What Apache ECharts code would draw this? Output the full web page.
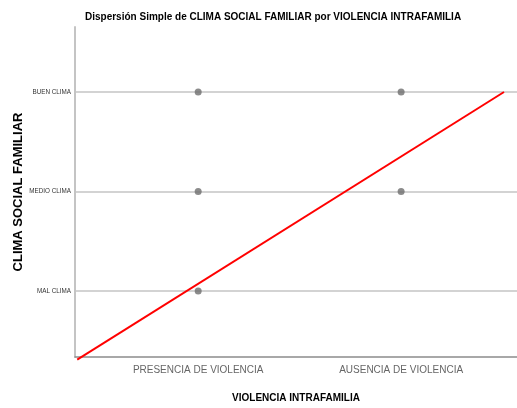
<!DOCTYPE html>
<html>
<head>
<meta charset="utf-8">
<script src="https://cdn.jsdelivr.net/npm/echarts@6/dist/echarts.min.js"></script>
<style>html,body{margin:0;padding:0;background:#fff}#c{width:517px;height:408px}</style>
</head>
<body>
<div id="c"></div>
<script>
const xCategories = ['PRESENCIA DE VIOLENCIA', 'AUSENCIA DE VIOLENCIA'];
const yCategories = ['MAL CLIMA', 'MEDIO CLIMA', 'BUEN CLIMA'];
// points: [x index (1-based), y level (1-based)]
const points = [[1, 3], [1, 2], [1, 1], [2, 3], [2, 2]];
// fit line endpoints
const fitLine = [[0.404, 0.31], [2.507, 3.0]];

const FONT = "'Liberation Sans',Arial,sans-serif";
const chart = echarts.init(document.getElementById('c'), null, {renderer: 'canvas'});
chart.setOption({
  animation: false,
  title: {
    text: 'Dispersión Simple de CLIMA SOCIAL FAMILIAR por VIOLENCIA INTRAFAMILIA',
    left: 80, top: 7,
    textStyle: {fontFamily: FONT, fontWeight: 'bold', fontSize: 10, color: '#000'}
  },
  grid: {left: 75, right: 0, top: 27, bottom: 51, containLabel: false, outerBoundsMode: 'none'},
  xAxis: {
    type: 'value', min: 0.393, max: 2.571,
    name: 'VIOLENCIA INTRAFAMILIA', nameLocation: 'middle', nameGap: 36, nameMoveOverlap: false,
    nameTextStyle: {fontFamily: FONT, fontWeight: 'bold', fontSize: 10, color: '#000'},
    axisLine: {show: true, lineStyle: {color: '#8c8c8c', width: 1.5}},
    axisTick: {show: false, customValues: [1, 2]},
    splitLine: {show: false},
    axisLabel: {
      customValues: [1, 2], margin: 8,
      formatter: v => xCategories[Math.round(v) - 1],
      fontFamily: FONT, fontSize: 10, color: '#666'
    }
  },
  yAxis: {
    type: 'value', min: 0.337, max: 3.653,
    name: 'CLIMA SOCIAL FAMILIAR', nameLocation: 'middle', nameGap: 50, nameMoveOverlap: false,
    nameTextStyle: {fontFamily: FONT, fontWeight: 'bold', fontSize: 13, color: '#000'},
    axisLine: {show: true, lineStyle: {color: '#c4c4c4', width: 2}},
    axisTick: {show: false, customValues: [1, 2, 3]},
    splitLine: {show: true, lineStyle: {color: '#c4c4c4', width: 1.5}},
    axisLabel: {
      customValues: [1, 2, 3], margin: 4,
      formatter: v => yCategories[Math.round(v) - 1],
      fontFamily: FONT, fontSize: 6.3, color: '#333'
    }
  },
  series: [
    {
      type: 'scatter', data: points, symbol: 'circle', symbolSize: 7,
      itemStyle: {color: '#6e6e6e'}, z: 3
    },
    {
      type: 'line', data: fitLine, symbol: 'none', clip: false,
      lineStyle: {color: '#ff0000', width: 2}, z: 4
    }
  ]
});
</script>
</body>
</html>
